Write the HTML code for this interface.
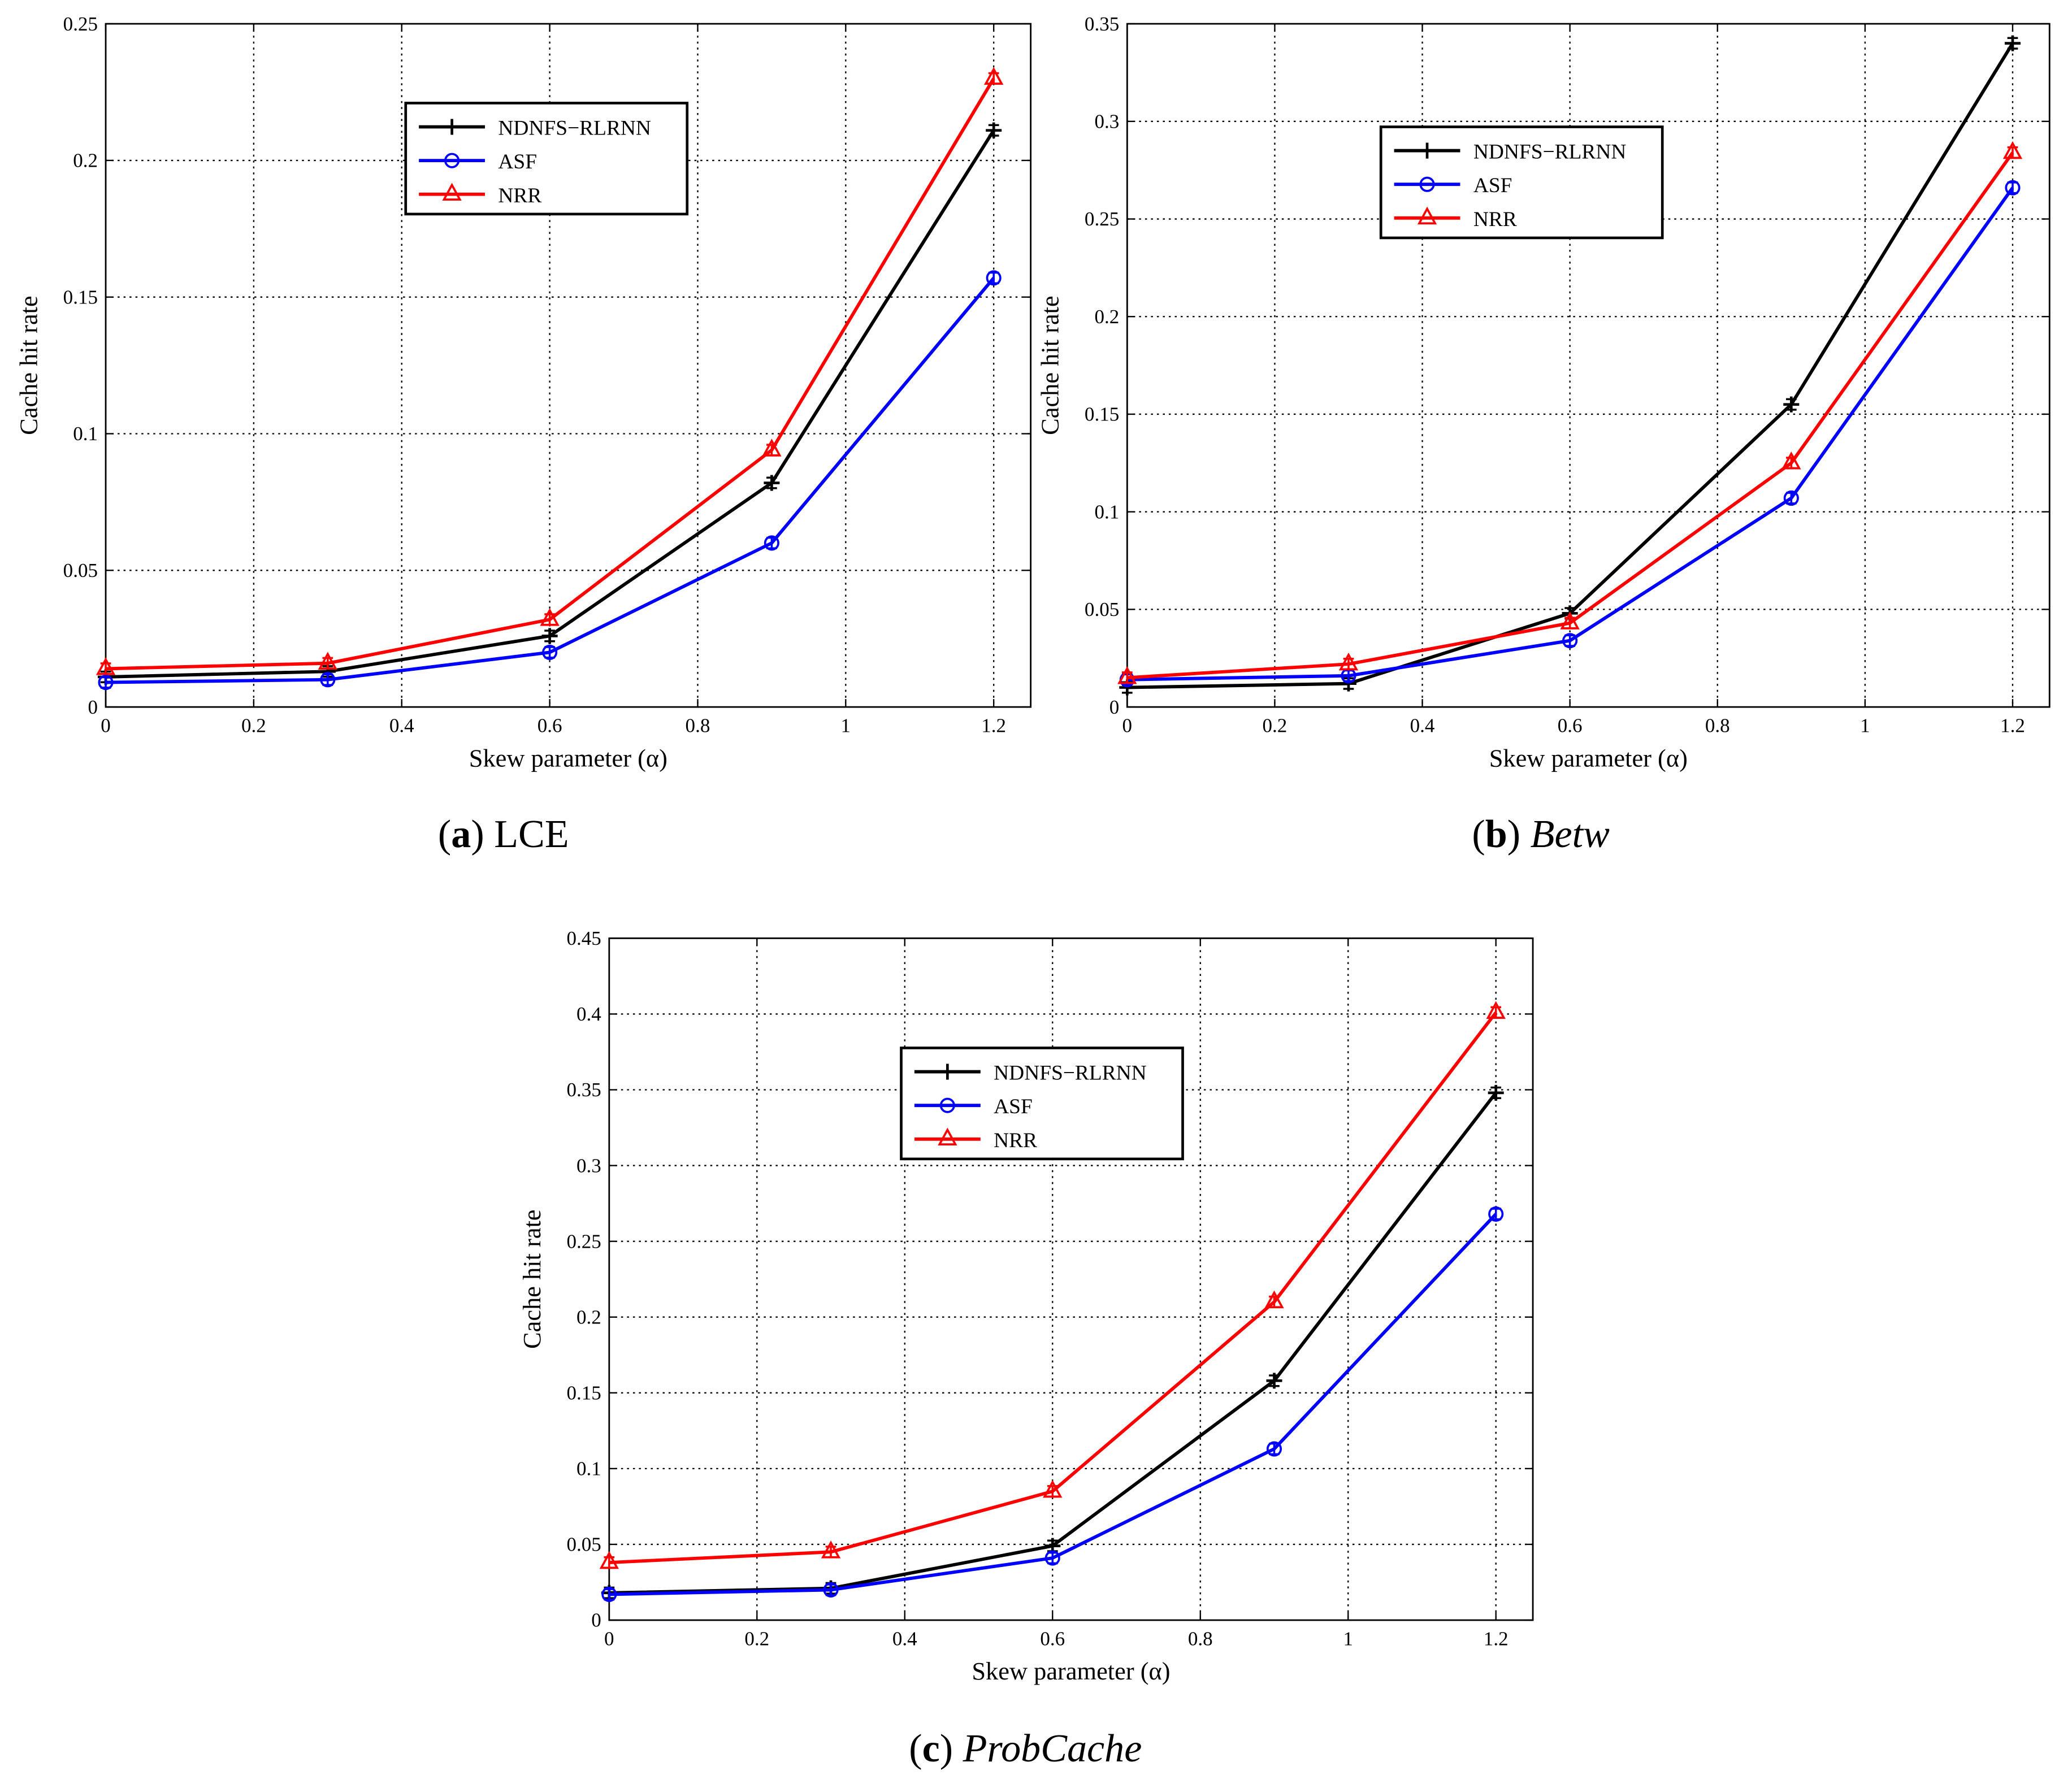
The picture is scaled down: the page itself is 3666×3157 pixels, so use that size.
<!DOCTYPE html>
<html><head><meta charset="utf-8">
<style>
html,body{margin:0;padding:0;background:#fff;}
svg{display:block;}
text{font-family:"Liberation Serif",serif;}
</style></head>
<body>
<svg id="fig" width="3666" height="3157" viewBox="0 0 1568 1350" preserveAspectRatio="none" xmlns="http://www.w3.org/2000/svg"></svg>
<script>
const xVals=[0,0.3,0.6,0.9,1.2];
const xTicks=[0,0.2,0.4,0.6,0.8,1,1.2];
const seriesNames=["NDNFS\u2212RLRNN","ASF","NRR"];
const aNdnfs=[0.011,0.013,0.026,0.082,0.211];
const aAsf=[0.009,0.010,0.020,0.060,0.157];
const aNrr=[0.014,0.016,0.032,0.094,0.230];
const bNdnfs=[0.010,0.012,0.048,0.155,0.340];
const bAsf=[0.014,0.016,0.034,0.107,0.266];
const bNrr=[0.015,0.022,0.043,0.125,0.284];
const cNdnfs=[0.018,0.021,0.049,0.158,0.348];
const cAsf=[0.017,0.020,0.041,0.113,0.268];
const cNrr=[0.038,0.045,0.085,0.210,0.401];
const aYTicks=[0,0.05,0.1,0.15,0.2,0.25];
const bYTicks=[0,0.05,0.1,0.15,0.2,0.25,0.3,0.35];
const cYTicks=[0,0.05,0.1,0.15,0.2,0.25,0.3,0.35,0.4,0.45];
const NS="http://www.w3.org/2000/svg";
const svg=document.getElementById('fig');
function el(tag,attrs,parent){const e=document.createElementNS(NS,tag);for(const k in attrs)e.setAttribute(k,attrs[k]);(parent||svg).appendChild(e);return e;}
const colors=["#000","#00f","#f00"];
function panel(id,L,R,T,B,ymax,yTicks,data,leg,capLetter,capText,capItalic,capX,capY){
  const g=el('g',{});
  
  
  const sx=v=>L+(v/1.25)*(R-L);
  const sy=v=>B-(v/ymax)*(B-T);
  el('rect',{x:L,y:T,width:R-L,height:B-T,fill:'#fff',stroke:'none'},g);
  xTicks.forEach(t=>{
    if(t>0){const l=el('line',{x1:sx(t),x2:sx(t),y1:T,y2:B,stroke:'#000','stroke-width':1,'stroke-dasharray':'1.5,3'},g);
    }
    el('line',{x1:sx(t),x2:sx(t),y1:B,y2:B-6,stroke:'#000'},g);
    el('line',{x1:sx(t),x2:sx(t),y1:T,y2:T+6,stroke:'#000'},g);
    const tx=el('text',{x:sx(t),y:B+19,'font-size':15,'text-anchor':'middle'},g);tx.textContent=String(t);
    
  });
  yTicks.forEach(t=>{
    if(t>0&&t<ymax){const l=el('line',{x1:L,x2:R,y1:sy(t),y2:sy(t),stroke:'#000','stroke-width':1,'stroke-dasharray':'1.5,3'},g);
    }
    el('line',{x1:L,x2:L+6,y1:sy(t),y2:sy(t),stroke:'#000'},g);
    el('line',{x1:R,x2:R-6,y1:sy(t),y2:sy(t),stroke:'#000'},g);
    const tx=el('text',{x:L-6,y:sy(t)+5,'font-size':15,'text-anchor':'end'},g);tx.textContent=String(t);
    
  });
  el('rect',{x:L,y:T,width:R-L,height:B-T,fill:'none',stroke:'#000','stroke-width':1.2},g);
  const xl=el('text',{x:(L+R)/2,y:B+45,'font-size':19,'text-anchor':'middle'},g);xl.textContent='Skew parameter (\u03b1)';
  
  const yl=el('text',{x:0,y:0,'font-size':19,'text-anchor':'middle',transform:`translate(${L-52},${(T+B)/2}) rotate(-90)`},g);yl.textContent='Cache hit rate';
  
  data.forEach((arr,si)=>{
    const c=colors[si];
    const pts=arr.map((v,i)=>sx(xVals[i])+','+sy(v)).join(' ');
    const pl=el('polyline',{points:pts,fill:'none',stroke:c,'stroke-width':2.5},g);
    
    
    arr.forEach((v,i)=>{
      const x=sx(xVals[i]),y=sy(v);
      el('line',{x1:x,x2:x,y1:y-4,y2:y+4,stroke:c,'stroke-width':1.5},g);
      el('line',{x1:x-4,x2:x+4,y1:y-4,y2:y-4,stroke:c,'stroke-width':1.5},g);
      el('line',{x1:x-4,x2:x+4,y1:y+4,y2:y+4,stroke:c,'stroke-width':1.5},g);
      let m;
      if(si===0){m=el('path',{d:`M${x-6},${y}H${x+6}M${x},${y-6}V${y+6}`,stroke:c,'stroke-width':2},g);}
      else if(si===1){m=el('circle',{cx:x,cy:y,r:5,fill:'none',stroke:c,'stroke-width':1.6},g);}
      else{m=el('path',{d:`M${x},${y-7}L${x+6},${y+4}L${x-6},${y+4}Z`,fill:'none',stroke:c,'stroke-width':1.6},g);}
      
    });
  });
  const lg=el('g',{},g);
  
  el('rect',{x:leg[0],y:leg[1],width:213,height:84,fill:'#fff',stroke:'#000','stroke-width':2},lg);
  seriesNames.forEach((n,si)=>{
    const y=leg[1]+18+si*25.5,x0=leg[0]+10,x1=leg[0]+60,xm=(x0+x1)/2,c=colors[si];
    el('line',{x1:x0,x2:x1,y1:y,y2:y,stroke:c,'stroke-width':2.5},lg);
    if(si===0)el('path',{d:`M${xm-6},${y}H${xm+6}M${xm},${y-6}V${y+6}`,stroke:c,'stroke-width':2},lg);
    else if(si===1)el('circle',{cx:xm,cy:y,r:5,fill:'none',stroke:c,'stroke-width':1.6},lg);
    else el('path',{d:`M${xm},${y-7}L${xm+6},${y+4}L${xm-6},${y+4}Z`,fill:'none',stroke:c,'stroke-width':1.6},lg);
    const t=el('text',{x:leg[0]+70,y:y+6,'font-size':16},lg);t.textContent=n;
    
  });
  const cap=el('text',{x:capX,y:capY,'font-size':30,'text-anchor':'middle'},g);
  
  const s1=el('tspan',{},cap);s1.textContent='(';
  const s2=el('tspan',{'font-weight':'bold'},cap);s2.textContent=capLetter;
  const s3=el('tspan',{},cap);s3.textContent=') ';
  const s4=el('tspan',capItalic?{'font-style':'italic'}:{},cap);s4.textContent=capText;
}
panel('a',80,780,18,535,0.25,aYTicks,[aNdnfs,aAsf,aNrr],[307,78],'a','LCE',false,381,641);
panel('b',853,1551,18,535,0.35,bYTicks,[bNdnfs,bAsf,bNrr],[1045,96],'b','Betw',true,1166,641);
panel('c',461,1160,710,1226,0.45,cYTicks,[cNdnfs,cAsf,cNrr],[682,793],'c','ProbCache',true,776,1333);
</script>
</body></html>
